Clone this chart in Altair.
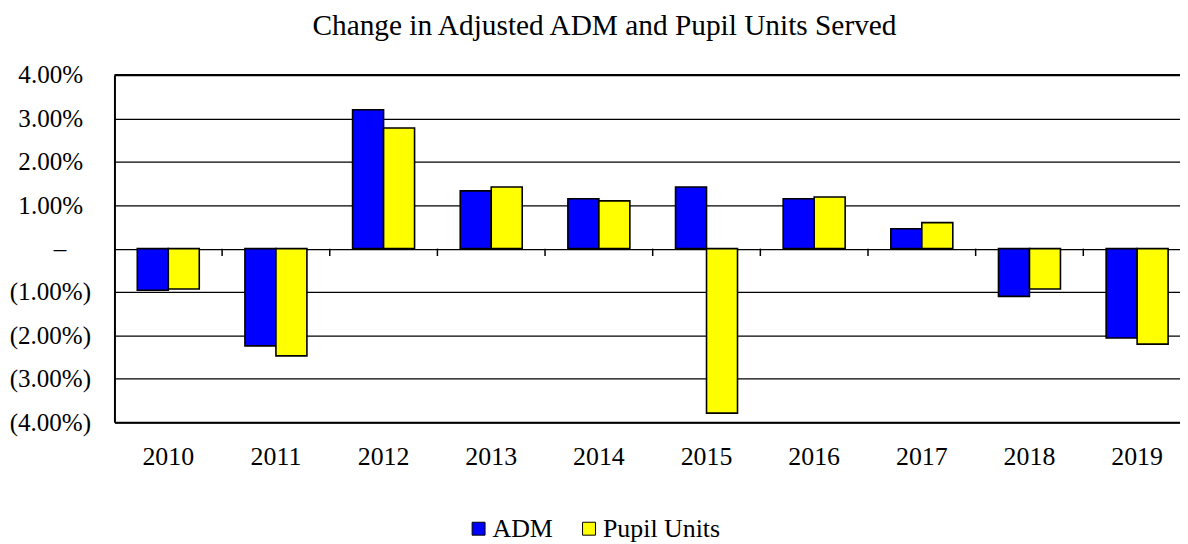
import altair as alt
import pandas as pd

# ---- data (percent values) ----
years = ["2010", "2011", "2012", "2013", "2014", "2015", "2016", "2017", "2018", "2019"]
adm_pct = [-0.96, -2.24, 3.20, 1.33, 1.15, 1.42, 1.15, 0.46, -1.10, -2.06]
pupil_pct = [-0.93, -2.47, 2.78, 1.42, 1.10, -3.79, 1.19, 0.60, -0.93, -2.20]
series = ["ADM", "Pupil Units"]
series_colors = ["#0000FF", "#FFFF00"]
y_ticks = [-0.04, -0.03, -0.02, -0.01, 0.0, 0.01, 0.02, 0.03, 0.04]
title_text = "Change in Adjusted ADM and Pupil Units Served"

rows = []
for i, yr in enumerate(years):
    rows.append({"year": yr, "series": series[0], "value": adm_pct[i] / 100})
    rows.append({"year": yr, "series": series[1], "value": pupil_pct[i] / 100})
df = pd.DataFrame(rows)

FONT = "Liberation Serif"

x_scale = alt.Scale(domain=years, range=[0, 1082], paddingInner=0, paddingOuter=0)
y_scale = alt.Scale(domain=[-0.04, 0.04], nice=False, zero=False)

label_expr = (
    "datum.value > 0.00001 ? format(datum.value, '.2%') : "
    "(datum.value < -0.00001 ? '(' + format(-datum.value, '.2%') + ')' : '\u2013')"
)
label_pad = {
    "condition": [
        {"test": "datum.value > 0.00001", "value": 32},
        {"test": "datum.value > -0.00001", "value": 49},
    ],
    "value": 24,
}

bars = alt.Chart(df).mark_bar(stroke="black", strokeWidth=1.6).encode(
    x=alt.X(
        "year:N",
        scale=x_scale,
        axis=alt.Axis(
            title=None, labelFont=FONT, labelFontSize=26, labelColor="black",
            labelAngle=0, ticks=False, tickSize=0, labelPadding=42,
            labelBaseline="alphabetic", domainColor="black", domainWidth=2, grid=False,
        ),
    ),
    xOffset=alt.XOffset("series:N", scale=alt.Scale(domain=series, paddingInner=0, paddingOuter=0.737)),
    y=alt.Y(
        "value:Q",
        scale=y_scale,
        axis=alt.Axis(
            title=None, values=y_ticks, labelExpr=label_expr, labelFont=FONT,
            labelFontSize=25.2, labelColor="black", ticks=False, tickSize=0,
            labelPadding=label_pad, domainColor="black", domainWidth=2,
            gridColor="black", gridWidth=1.3, gridOpacity=1,
        ),
    ),
    color=alt.Color(
        "series:N",
        scale=alt.Scale(domain=series, range=series_colors),
        legend=alt.Legend(
            orient="none", legendX=353, legendY=443, direction="horizontal",
            title=None, symbolType="square", symbolSize=169,
            symbolStrokeColor="black", symbolStrokeWidth=1, symbolOpacity=1,
            labelFont=FONT, labelFontSize=26, labelColor="black",
            labelOffset=1, columnPadding=23, padding=0,
        ),
    ),
)

tick_df = pd.DataFrame({"year": years[1:]})
zero_ticks = alt.Chart(tick_df).mark_rule(color="black", strokeWidth=1.5).encode(
    x=alt.X("year:N", bandPosition=0),
    y=alt.Y(datum=0),
    y2=alt.Y2(datum=-0.0017),
)

top_df = pd.DataFrame({"value": [0.04]})
top_rule = alt.Chart(top_df).mark_rule(color="black", strokeWidth=2).encode(
    y=alt.Y("value:Q")
)

chart = alt.layer(bars, zero_ticks, top_rule).properties(
    width=1071,
    height=349,
    title=alt.TitleParams(
        text=title_text, font=FONT, fontSize=29.5, fontWeight="normal",
        color="black", anchor="middle", dx=-43, dy=29, baseline="alphabetic", offset=28,
    ),
    autosize=alt.AutoSizeParams(type="none"),
    padding={"left": 107, "top": 66, "right": 0, "bottom": 121},
).configure_view(stroke=None)

chart.save("out.html", embed_options={"renderer": "svg", "actions": False})
